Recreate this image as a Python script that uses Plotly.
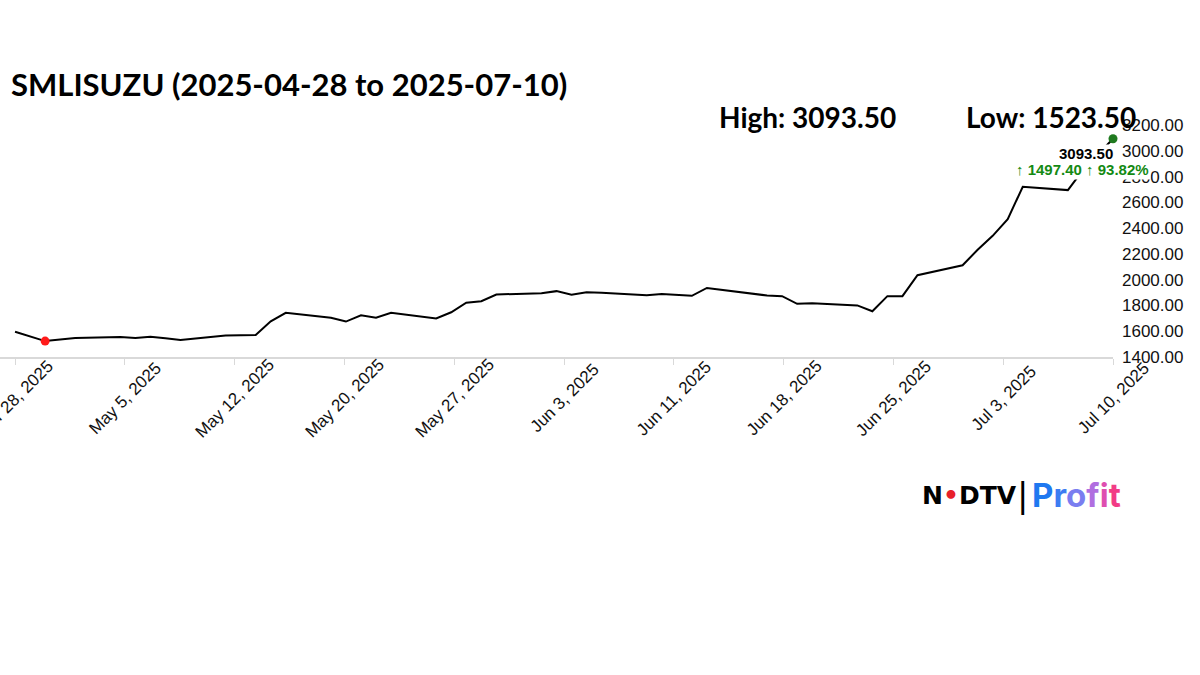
import pandas as pd
import plotly.graph_objects as go

symbol = "SMLISUZU"

dates = [
    "2025-04-28", "2025-04-29", "2025-04-30", "2025-05-02", "2025-05-05", "2025-05-06",
    "2025-05-07", "2025-05-08", "2025-05-09", "2025-05-12", "2025-05-13", "2025-05-14",
    "2025-05-15", "2025-05-16", "2025-05-19", "2025-05-20", "2025-05-21", "2025-05-22",
    "2025-05-23", "2025-05-26", "2025-05-27", "2025-05-28", "2025-05-29", "2025-05-30",
    "2025-06-02", "2025-06-03", "2025-06-04", "2025-06-05", "2025-06-06", "2025-06-09",
    "2025-06-10", "2025-06-11", "2025-06-12", "2025-06-13", "2025-06-16", "2025-06-17",
    "2025-06-18", "2025-06-19", "2025-06-20", "2025-06-23", "2025-06-24", "2025-06-25",
    "2025-06-26", "2025-06-27", "2025-06-30", "2025-07-01", "2025-07-02", "2025-07-03",
    "2025-07-04", "2025-07-07", "2025-07-08", "2025-07-09", "2025-07-10",
]

close = [
    1596.10, 1560.0, 1523.50, 1548.0, 1556.0, 1548.0,
    1558.0, 1545.0, 1532.0, 1566.0, 1568.0, 1571.0,
    1677.0, 1743.0, 1704.0, 1675.0, 1724.0, 1704.0,
    1743.0, 1699.0, 1747.0, 1821.0, 1833.0, 1885.0,
    1895.0, 1911.0, 1883.0, 1903.0, 1898.0, 1880.0,
    1888.0, 1882.0, 1875.0, 1936.0, 1892.0, 1877.0,
    1872.0, 1813.0, 1817.0, 1800.0, 1755.0, 1872.0,
    1872.0, 2035.0, 2112.0, 2232.0, 2340.0, 2470.0,
    2721.0, 2695.0, 2850.0, 2970.0, 3093.50,
]

tick_labels = [
    "Apr 28, 2025", "May 5, 2025", "May 12, 2025", "May 20, 2025", "May 27, 2025",
    "Jun 3, 2025", "Jun 11, 2025", "Jun 18, 2025", "Jun 25, 2025", "Jul 3, 2025",
    "Jul 10, 2025",
]

y_ticks = [1400, 1600, 1800, 2000, 2200, 2400, 2600, 2800, 3000, 3200]

# derived values
t0 = pd.Timestamp(dates[0])
t1 = pd.Timestamp(dates[-1])
n_int = len(tick_labels) - 1
tick_vals = [t0 + (t1 - t0) * k / n_int for k in range(len(tick_labels))]

hi = max(close)
lo = min(close)
lo_i = close.index(lo)
chg = close[-1] - close[0]
pct = chg / close[0] * 100

PW, PH, PB = 1113, 232, 357  # plot width, plot height, plot bottom (px)

fig = go.Figure()
fig.add_trace(go.Scatter(
    x=dates, y=close, mode="lines",
    line=dict(color="black", width=2), hoverinfo="skip", showlegend=False,
))
fig.add_trace(go.Scatter(
    x=[dates[lo_i]], y=[lo], mode="markers",
    marker=dict(color="#ff1a1a", size=9), showlegend=False, cliponaxis=False,
))
fig.add_trace(go.Scatter(
    x=[dates[-1]], y=[close[-1]], mode="markers",
    marker=dict(color="#1f7a1f", size=9), showlegend=False, cliponaxis=False,
))

annotations = []
# rotated, centered date labels
for tv, tl in zip(tick_vals, tick_labels):
    annotations.append(dict(
        x=tv, xref="x", y=0, yref="paper", yshift=-41,
        text=tl, textangle=-45, showarrow=False,
        xanchor="center", yanchor="middle",
        font=dict(family="Liberation Sans, Arial", size=17, color="#111"),
    ))

# title
annotations.append(dict(
    x=9 / PW, xref="paper", y=(PB - 84) / PH, yref="paper",
    text=f"<b>{symbol} ({dates[0]} to {dates[-1]})</b>", showarrow=False,
    xanchor="left", yanchor="middle",
    font=dict(family="Lato", size=31, color="black"),
))
# high / low
annotations.append(dict(
    x=717 / PW, xref="paper", y=(PB - 117) / PH, yref="paper",
    text=f"<b>High: {hi:.2f}</b>", showarrow=False,
    xanchor="left", yanchor="middle",
    font=dict(family="Lato", size=28, color="black"),
))
annotations.append(dict(
    x=964 / PW, xref="paper", y=(PB - 117) / PH, yref="paper",
    text=f"<b>Low: {lo:.2f}</b>", showarrow=False,
    xanchor="left", yanchor="middle",
    font=dict(family="Lato", size=28, color="black"),
))
# last value + change labels
annotations.append(dict(
    x=dates[-1], xref="x", y=close[-1], yref="y", xshift=-27, yshift=-15,
    text=f"<b>{close[-1]:.2f}</b>", showarrow=False,
    xanchor="center", yanchor="middle", bgcolor="white", borderpad=0,
    font=dict(family="Liberation Sans, Arial", size=15, color="black"),
))
annotations.append(dict(
    x=dates[-1], xref="x", y=close[-1], yref="y", xshift=-31, yshift=-31,
    text=f"<b>\u2191 {chg:.2f} \u2191 {pct:.2f}%</b>", showarrow=False,
    xanchor="center", yanchor="middle", bgcolor="white", borderpad=1,
    font=dict(family="Liberation Sans, Arial", size=15, color="#138a13"),
))
# logo
annotations.append(dict(
    x=920 / PW, xref="paper", y=(PB - 495) / PH, yref="paper",
    text="<b>N<span style='color:#e8202a'>\u2022</span>DTV</b>", showarrow=False,
    xanchor="left", yanchor="middle",
    font=dict(family="DejaVu Sans", size=25, color="black"),
))
annotations.append(dict(
    x=1022 / PW, xref="paper", y=(PB - 495) / PH, yref="paper",
    text="|", showarrow=False, xanchor="center", yanchor="middle",
    font=dict(family="DejaVu Sans", size=34, color="black"),
))
annotations.append(dict(
    x=1030 / PW, xref="paper", y=(PB - 495) / PH, yref="paper",
    text=("<b><span style='color:#1f78f0'>P</span><span style='color:#3d7cf2'>r</span>"
          "<span style='color:#7a7ef0'>o</span><span style='color:#b06ee0'>f</span>"
          "<span style='color:#de4fb0'>i</span><span style='color:#f23c86'>t</span></b>"),
    showarrow=False, xanchor="left", yanchor="middle",
    font=dict(family="Inter", size=33),
))

fig.update_layout(
    width=1200, height=675,
    margin=dict(l=0, r=1200 - PW, t=PB - PH, b=675 - PB, autoexpand=False),
    paper_bgcolor="white", plot_bgcolor="white",
    annotations=annotations,
    showlegend=False,
    xaxis=dict(
        type="date", automargin=False,
        range=[t0 - pd.Timedelta(days=1), t1],
        showgrid=False, zeroline=False,
        showline=True, linecolor="#d9d9d9", linewidth=2,
        ticks="outside", ticklen=6, tickwidth=1, tickcolor="#d9d9d9",
        tickvals=tick_vals, showticklabels=False,
    ),
    yaxis=dict(
        side="right", automargin=False, range=[y_ticks[0], y_ticks[-1]],
        tickvals=y_ticks, tickformat=".2f",
        showgrid=False, zeroline=False, showline=False, ticks="",
        ticklabelstandoff=8,
        tickfont=dict(family="Liberation Sans, Arial", size=17, color="#111"),
    ),
)

fig.write_html(
    "out.html",
    config={"displayModeBar": False},
    post_script="document.body.style.margin='0';document.body.style.overflow='hidden';",
)
